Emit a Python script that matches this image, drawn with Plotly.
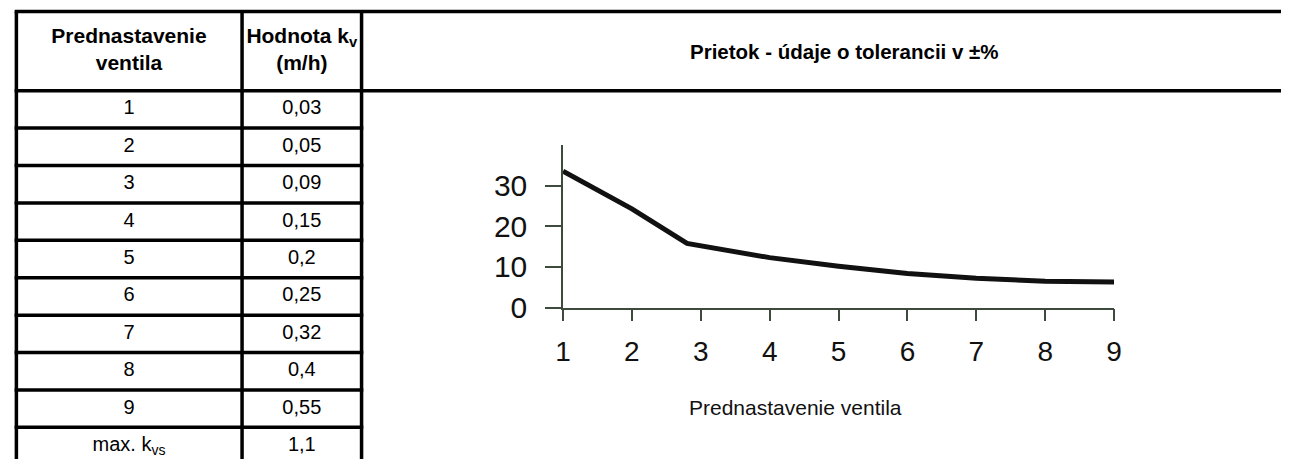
import plotly.graph_objects as go

# ---------------- data ----------------
settings = ["1", "2", "3", "4", "5", "6", "7", "8", "9", "max. k<sub>vs</sub>"]
kv_values = ["0,03", "0,05", "0,09", "0,15", "0,2", "0,25", "0,32", "0,4", "0,55", "1,1"]
table_headers = ["<b>Prednastavenie<br>ventila</b>", "<b>Hodnota k<sub>v</sub><br>(m/h)</b>"]

curve_x = [1, 2, 2.8, 4, 5, 6, 7, 8, 9]
curve_y = [33.6, 24.3, 15.8, 12.3, 10.2, 8.4, 7.2, 6.5, 6.3]

x_ticks = [1, 2, 3, 4, 5, 6, 7, 8, 9]
y_ticks = [0, 10, 20, 30]

chart_title = "<b>Prietok - údaje o tolerancii v ±%</b>"
x_title = "Prednastavenie ventila"

# ---------------- layout constants (page pixels, body margin removed) ----------------
W, H = 1289, 476
FONT = "Liberation Sans, Arial, sans-serif"
LW = 3.5
col_edges = [8.5, 237, 358]
col_centers = [(8 + 237) / 2, (237 + 358) / 2]
header_top, header_bot, row_h = 12, 94, 38.8
# table axis in row units: body row i centred on i+1, borders on k+0.5
hdr_top = 0.5 - (header_bot - header_top) / row_h
y2_top = 0.5 - header_bot / row_h
y2_bot = 0.5 + (H - header_bot) / row_h
hdr_mid = (hdr_top + 0.5) / 2
n_rows = len(settings)
body_y = list(range(1, n_rows + 1))

fig = go.Figure()

# curve
fig.add_trace(go.Scatter(
    x=curve_x, y=curve_y, mode="lines",
    line=dict(color="#111111", width=5),
    xaxis="x", yaxis="y", showlegend=False, hoverinfo="skip"))

# table text
fig.add_trace(go.Scatter(
    x=[col_centers[0]] * n_rows + [col_centers[1]] * n_rows,
    y=body_y + body_y,
    text=settings + kv_values,
    mode="text", textposition="middle center",
    textfont=dict(family=FONT, size=20, color="#000000"),
    xaxis="x2", yaxis="y2", showlegend=False, hoverinfo="skip"))
fig.add_trace(go.Scatter(
    x=col_centers, y=[hdr_mid, hdr_mid], text=table_headers,
    mode="text", textposition="middle center",
    textfont=dict(family=FONT, size=21, color="#000000"),
    xaxis="x2", yaxis="y2", showlegend=False, hoverinfo="skip"))

# table grid
shapes = []
for yy in [hdr_top, 0.5]:
    shapes.append(dict(type="line", xref="x2", yref="y2", x0=col_edges[0] - LW / 2, x1=W + 5,
                       y0=yy, y1=yy, line=dict(color="black", width=LW)))
for k in range(1, n_rows + 1):
    yy = k + 0.5
    shapes.append(dict(type="line", xref="x2", yref="y2", x0=col_edges[0] - LW / 2, x1=col_edges[2] + LW / 2,
                       y0=yy, y1=yy, line=dict(color="black", width=LW)))
for xx in col_edges:
    shapes.append(dict(type="line", xref="x2", yref="y2", x0=xx, x1=xx,
                       y0=hdr_top, y1=y2_bot + 1, line=dict(color="black", width=LW)))

axis_col = "#3d4a3d"
fig.update_layout(
    width=W, height=H,
    margin=dict(l=0, r=0, t=0, b=0),
    paper_bgcolor="white", plot_bgcolor="rgba(0,0,0,0)",
    showlegend=False,
    shapes=shapes,
    xaxis=dict(domain=[562 / W, 1120 / W], range=[1, 9], tickvals=x_ticks,
               showgrid=False, zeroline=False, showline=True, linecolor=axis_col, linewidth=1.5,
               ticks="outside", ticklen=12, tickwidth=1.5, tickcolor=axis_col,
               ticklabelstandoff=6,
               tickfont=dict(family=FONT, size=28, color="#111111")),
    yaxis=dict(domain=[(H - 319) / H, (H - 150.5) / H], range=[0, 40], tickvals=y_ticks,
               showgrid=False, zeroline=False, showline=True, linecolor=axis_col, linewidth=1.5,
               ticks="outside", ticklen=16, tickwidth=1.5, tickcolor=axis_col,
               ticklabelstandoff=12,
               tickfont=dict(family=FONT, size=30, color="#111111")),
    xaxis2=dict(domain=[0, 1], range=[0, W], visible=False, fixedrange=True),
    yaxis2=dict(domain=[0, 1], range=[y2_bot, y2_top], visible=False, fixedrange=True),
    annotations=[
        dict(text=chart_title, xref="x2", yref="y2", x=847, y=hdr_mid, showarrow=False,
             xanchor="center", yanchor="middle",
             font=dict(family=FONT, size=20.5, color="#000000")),
        dict(text=x_title, xref="paper", yref="paper", x=797 / W, y=(H - 423) / H,
             showarrow=False, xanchor="center", yanchor="middle",
             font=dict(family=FONT, size=21, color="#111111")),
    ],
)

fig.write_html(
    "out.html",
    config={"displayModeBar": False},
    post_script="document.body.style.margin='0';document.documentElement.style.overflow='hidden';",
)
